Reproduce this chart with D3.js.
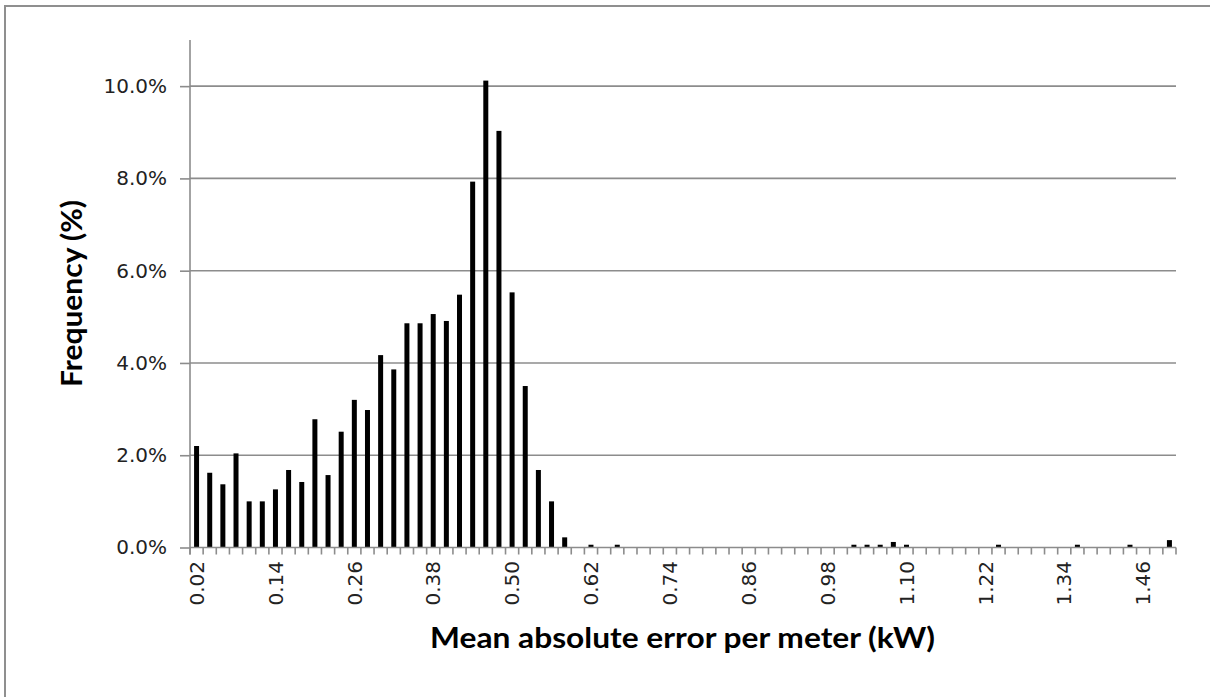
<!DOCTYPE html>
<html>
<head>
<meta charset="utf-8">
<script src="https://cdn.jsdelivr.net/npm/d3@7/dist/d3.min.js"></script>
<style>
  html, body { margin: 0; padding: 0; background: #fff; }
  svg { display: block; }
</style>
</head>
<body>
<svg id="chart" width="1210" height="697"></svg>
<script>
// ---- data ----
const categories = [
  "0.02","0.04","0.06","0.08","0.10","0.12","0.14","0.16","0.18","0.20",
  "0.22","0.24","0.26","0.28","0.30","0.32","0.34","0.36","0.38","0.40",
  "0.42","0.44","0.46","0.48","0.50","0.52","0.54","0.56","0.58","0.60",
  "0.62","0.64","0.66","0.68","0.70","0.72","0.74","0.76","0.78","0.80",
  "0.82","0.84","0.86","0.88","0.90","0.92","0.94","0.96","0.98","1.00",
  "1.02","1.04","1.06","1.08","1.10","1.12","1.14","1.16","1.18","1.20",
  "1.22","1.24","1.26","1.28","1.30","1.32","1.34","1.36","1.38","1.40",
  "1.42","1.44","1.46","1.48","1.50"
];
// frequency in percent
const frequency = [
  2.20, 1.62, 1.37, 2.04, 1.00, 1.00, 1.26, 1.68, 1.42, 2.78,
  1.57, 2.51, 3.20, 2.98, 4.17, 3.86, 4.86, 4.86, 5.06, 4.91,
  5.48, 7.93, 10.12, 9.03, 5.53, 3.50, 1.68, 1.00, 0.22, 0.00,
  0.06, 0.00, 0.06, 0.00, 0.00, 0.00, 0.00, 0.00, 0.00, 0.00,
  0.00, 0.00, 0.00, 0.00, 0.00, 0.00, 0.00, 0.00, 0.00, 0.00,
  0.06, 0.06, 0.06, 0.12, 0.06, 0.00, 0.00, 0.00, 0.00, 0.00,
  0.00, 0.06, 0.00, 0.00, 0.00, 0.00, 0.00, 0.06, 0.00, 0.00,
  0.00, 0.06, 0.00, 0.00, 0.16
];
const xTickLabels = ["0.02","0.14","0.26","0.38","0.50","0.62","0.74","0.86","0.98","1.10","1.22","1.34","1.46"];
const yTicks = [0, 2, 4, 6, 8, 10];
const yMax = 11;
const xTitle = "Mean absolute error per meter (kW)";
const yTitle = "Frequency (%)";

// ---- layout ----
const svg = d3.select("#chart");
const plotLeft = 190, plotRight = 1176, plotTop = 40, plotBottom = 547.5;
const gridColor = "#8c8c8c";

// outer frame
svg.append("rect")
  .attr("x", 5).attr("y", 6).attr("width", 1400).attr("height", 900)
  .attr("fill", "none").attr("stroke", "#8f8f8f").attr("stroke-width", 2);

const x = d3.scaleBand().domain(categories).range([plotLeft, plotRight])
  .paddingInner(0.62).paddingOuter(0.31);
const y = d3.scaleLinear().domain([0, yMax]).range([plotBottom, plotTop]);

// gridlines
svg.append("g").selectAll("line")
  .data(yTicks.filter(d => d > 0))
  .join("line")
  .attr("x1", plotLeft).attr("x2", plotRight)
  .attr("y1", d => y(d)).attr("y2", d => y(d))
  .attr("stroke", gridColor).attr("stroke-width", 1.6);

// y axis
const yAxis = d3.axisLeft(y).tickValues(yTicks).tickSize(10).tickPadding(13)
  .tickFormat(d => d3.format(".1f")(d) + "%");
const yg = svg.append("g").attr("transform", `translate(${plotLeft},0)`).call(yAxis);
yg.select(".domain").remove();
yg.selectAll(".tick line").attr("stroke", gridColor).attr("stroke-width", 1.6);
yg.selectAll(".tick text")
  .attr("font-family", "DejaVu Sans").attr("font-size", 20).attr("fill", "#222");
svg.append("line")
  .attr("x1", plotLeft).attr("x2", plotLeft).attr("y1", y(yMax)).attr("y2", plotBottom + 7)
  .attr("stroke", gridColor).attr("stroke-width", 1.6);

// bars
svg.append("g").selectAll("rect")
  .data(categories.map((c, i) => ({c, v: frequency[i]})).filter(d => d.v > 0))
  .join("rect")
  .attr("x", d => x(d.c))
  .attr("width", x.bandwidth())
  .attr("y", d => y(d.v))
  .attr("height", d => y(0) - y(d.v))
  .attr("fill", "#000");

// x axis line
svg.append("line")
  .attr("x1", plotLeft).attr("x2", plotRight).attr("y1", plotBottom).attr("y2", plotBottom)
  .attr("stroke", gridColor).attr("stroke-width", 1.6);

// boundary ticks
const step = x.step();
const boundaries = categories.map(c => x(c) + x.bandwidth() / 2 - step / 2)
  .concat([x(categories[categories.length - 1]) + x.bandwidth() / 2 + step / 2]);
svg.append("g").selectAll("line")
  .data(boundaries)
  .join("line")
  .attr("x1", d => d).attr("x2", d => d)
  .attr("y1", plotBottom).attr("y2", plotBottom + 7)
  .attr("stroke", gridColor).attr("stroke-width", 1.6);

// x tick labels (rotated)
svg.append("g").selectAll("text")
  .data(xTickLabels)
  .join("text")
  .attr("transform", d => `translate(${x(d) + x.bandwidth() / 2},561) rotate(-90)`)
  .attr("text-anchor", "end")
  .attr("dy", "0.36em")
  .attr("font-family", "DejaVu Sans").attr("font-size", 20).attr("fill", "#222")
  .text(d => d);

// axis titles
svg.append("text")
  .attr("x", 682.5).attr("y", 647.5)
  .attr("text-anchor", "middle")
  .attr("font-family", "Lato").attr("font-weight", 700).attr("font-size", 28)
  .attr("textLength", 505).attr("lengthAdjust", "spacingAndGlyphs")
  .attr("fill", "#000")
  .text(xTitle);

svg.append("text")
  .attr("transform", "translate(81.5,293.5) rotate(-90)")
  .attr("text-anchor", "middle")
  .attr("font-family", "Lato").attr("font-weight", 700).attr("font-size", 28)
  .attr("textLength", 187).attr("lengthAdjust", "spacingAndGlyphs")
  .attr("fill", "#000")
  .text(yTitle);
</script>
</body>
</html>
